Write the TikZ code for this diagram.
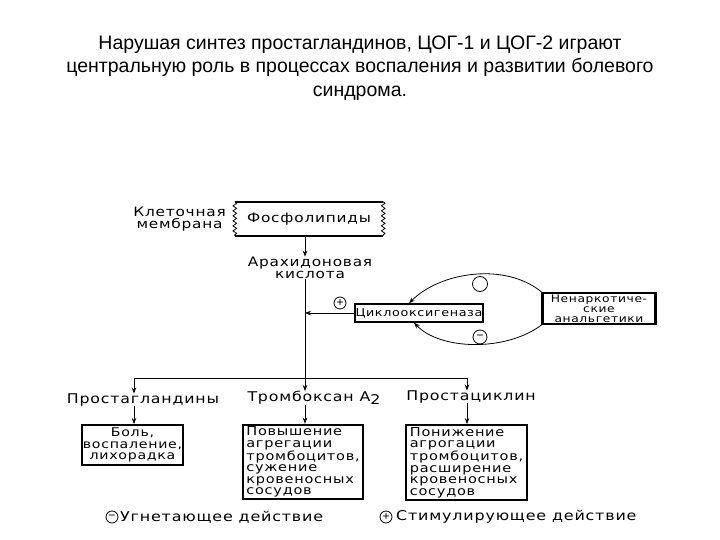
\documentclass[tikz,border=0pt]{standalone}
\usepackage{fontspec}
\setmainfont{Liberation Sans}
\newfontfamily\dia[FakeStretch=1.18,LetterSpace=6]{DejaVu Sans}
\usetikzlibrary{arrows.meta,decorations.pathmorphing}

\tikzset{
  every node/.style={inner sep=0pt},
  lbl/.style={font=\dia\fontsize{13}{12.5}\selectfont, align=center},
  big/.style={font=\dia\fontsize{13.4}{14}\selectfont},
  legtext/.style={font=\dia\fontsize{13.5}{14}\selectfont},
  effbox/.style={draw, line width=1.8pt, font=\dia\fontsize{12.3}{11.5}\selectfont},
  sign/.style={circle, draw, line width=0.8pt, minimum size=12pt, font=\fontsize{12}{12}\selectfont},
  arr/.style={-{Stealth[length=6pt,width=4.5pt]}, line width=1pt},
}

\begin{document}
\begin{tikzpicture}[x=1pt,y=-1pt]
\useasboundingbox (0,0) rectangle (720,540);
% title
\node[align=center, font=\fontsize{19.5}{23.5}\selectfont] (title) at (360,68)
  {Нарушая синтез простагландинов, ЦОГ-1 и ЦОГ-2 играют\\
   центральную роль в процессах воспаления и развитии болевого\\
   синдрома.};

% membrane
\node[lbl, anchor=east] (memb) at (226,219) {Клеточная\\мембрана};
\node[minimum width=148pt, minimum height=34pt, lbl] (fosfo) at (309,219) {Фосфолипиды};
\draw[line width=1.6pt] (fosfo.north west) -- (fosfo.north east);
\draw[line width=1.6pt] (fosfo.south west) -- (fosfo.south east);
\draw[decorate, decoration={snake, segment length=5pt, amplitude=1.8pt}, line width=0.8pt]
  (fosfo.north west) -- (fosfo.south west);
\draw[decorate, decoration={snake, segment length=5pt, amplitude=1.8pt}, line width=0.8pt]
  (fosfo.north east) -- (fosfo.south east);

\node[lbl] (arach) at (310,268) {Арахидоновая\\кислота};
\coordinate (stem) at (305,378);
\coordinate (pgl) at (134,378);
\coordinate (prc) at (467,378);

% cyclooxygenase and analgetics
\node[draw, line width=1.4pt, minimum width=128pt, minimum height=18pt,
      font=\dia\fontsize{10.8}{12}\selectfont] (cox) at (419,313) {Циклооксигеназа};
\node[draw, line width=2.2pt, minimum width=113pt, minimum height=31pt, align=center,
      font=\dia\fontsize{10.4}{10}\selectfont] (nenark) at (599,308.5) {Ненаркотиче-\\ские\\анальгетики};
\node[sign] (plus1) at (340,303) {+};
\node[circle, draw, line width=0.8pt, minimum size=15pt] (zero) at (480,284) {};
\node[sign, minimum size=14pt] (minus1) at (480,337) {−};

\path[arr] (fosfo.south -| stem) edge (arach.north -| stem);
\draw[line width=1pt] (arach.south -| stem) -- (stem);
\path[arr, line width=0.8pt] (cox.west) edge (cox.west -| stem);
\draw[arr, line width=0.8pt] (nenark.north west) .. controls (505,262) and (440,272) .. ([xshift=-10pt]cox.north);
\draw[arr, line width=0.8pt] (nenark.south west) .. controls (505,352) and (440,350) .. ([xshift=-5pt]cox.south);

% products
\draw[line width=1pt] (pgl) -- (prc);
\node[big] (pg) at (143,400) {Простагландины};
\node[big] (tx) at (314,398) {Тромбоксан А\raisebox{-3pt}{2}};
\node[big] (pc) at (471,397) {Простациклин};
\path[arr] (pgl) edge (pg.north -| pgl);
\path[arr] (stem) edge (tx.north -| stem);
\path[arr] (prc) edge (pc.north -| prc);

% effects
\node[effbox, minimum width=101pt, minimum height=40pt, align=center,
      font=\dia\fontsize{12}{11.5}\selectfont] (bol) at (132.5,445)
  {Боль,\\воспаление,\\лихорадка};
\node[effbox, minimum width=120pt, minimum height=74pt, align=left, inner sep=2pt] (pov) at (303,462)
  {Повышение\\агрегации\\тромбоцитов,\\сужение\\кровеносных\\сосудов};
\node[effbox, minimum width=121pt, minimum height=75pt, align=left, inner sep=2pt] (pon) at (466.5,462.5)
  {Понижение\\агрогации\\тромбоцитов,\\расширение\\кровеносных\\сосудов};
\path[arr] (pg.south -| pgl) edge (bol.north -| pgl);
\path[arr] (tx.south -| stem) edge (pov.north -| stem);
\path[arr] (pc.south -| prc) edge (pon.north -| prc);

% legend
\node[sign] (lminus) at (112,517) {−};
\node[legtext, anchor=west] (ltext1) at (120,517) {Угнетающее действие};
\node[sign] (lplus) at (386,517) {+};
\node[legtext, anchor=west] (ltext2) at (396,517) {Стимулирующее действие};
\end{tikzpicture}
\end{document}
